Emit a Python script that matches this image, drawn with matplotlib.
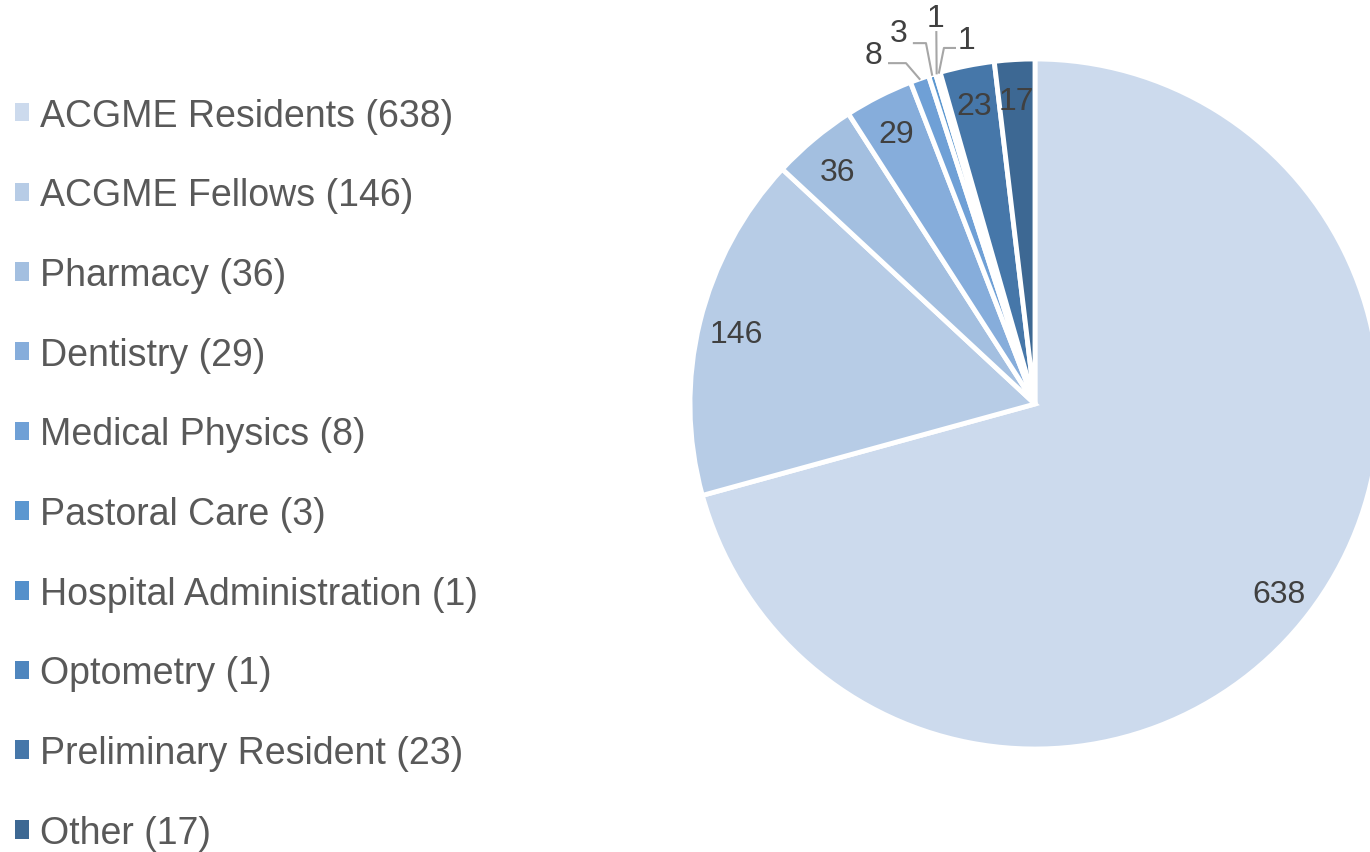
import numpy as np
import matplotlib.pyplot as plt
from matplotlib.patches import Patch

plt.rcParams['font.family'] = ['Liberation Sans', 'DejaVu Sans']

# data
categories = ['ACGME Residents', 'ACGME Fellows', 'Pharmacy', 'Dentistry',
              'Medical Physics', 'Pastoral Care', 'Hospital Administration',
              'Optometry', 'Preliminary Resident', 'Other']
counts = [638, 146, 36, 29, 8, 3, 1, 1, 23, 17]
colors = ['#CCDAED', '#B7CCE6', '#A3BFE0', '#86ADDB', '#6FA0D6',
          '#5B97D0', '#5490CB', '#4F86BE', '#4677A9', '#3D6893']

# small slices get their label outside with a leader line (axis units)
outside = {4: [(-0.467, 1.012), [(-0.423, 0.988), (-0.374, 0.988)]],
           5: [(-0.394, 1.075), [(-0.351, 1.046), (-0.316, 1.046)]],
           6: [(-0.287, 1.118), [(-0.286, 1.078)]],
           7: [(-0.200, 1.055), [(-0.232, 1.032), (-0.264, 1.032)]]}

fig = plt.figure(figsize=(13.7, 8.53), dpi=100)
ax = fig.add_axes([690 / 1370, (853 - 750) / 853, 690 / 1370, 690 / 853])

wedges, _ = ax.pie(counts, colors=colors, startangle=90, counterclock=False,
                   radius=1, wedgeprops=dict(edgecolor='white', linewidth=3.5))
ax.set_xlim(-1, 1)
ax.set_ylim(-1, 1)
ax.set_aspect('equal')
ax.axis('off')
for w in wedges:
    w.set_clip_on(False)

for i, (w, c) in enumerate(zip(wedges, counts)):
    mid = np.deg2rad((w.theta1 + w.theta2) / 2)
    if i in outside:
        (lx, ly), pts = outside[i]
        ax_x, ax_y = np.cos(mid), np.sin(mid)
        xs = [p[0] for p in pts] + [ax_x]
        ys = [p[1] for p in pts] + [ax_y]
        ax.plot(xs, ys, color='#A6A6A6', lw=1.5, clip_on=False, zorder=3)
        ax.text(lx, ly, str(c), fontsize=23, color='#404040',
                ha='center', va='center', clip_on=False)
    else:
        r = 0.89
        ax.text(r * np.cos(mid), r * np.sin(mid) - 0.01, str(c), fontsize=23,
                color='#404040', ha='center', va='center')

handles = [Patch(facecolor=col, edgecolor='none') for col in colors]
labels = [f'{n} ({c})' for n, c in zip(categories, counts)]
fig.legend(handles, labels, loc='upper left', bbox_to_anchor=(0.0, 0.902),
           frameon=False, fontsize=27, handlelength=0.38, handleheight=0.38,
           handletextpad=0.3, labelspacing=1.165, labelcolor='#595959',
           borderaxespad=0)

fig.savefig('out.png', dpi=100)
